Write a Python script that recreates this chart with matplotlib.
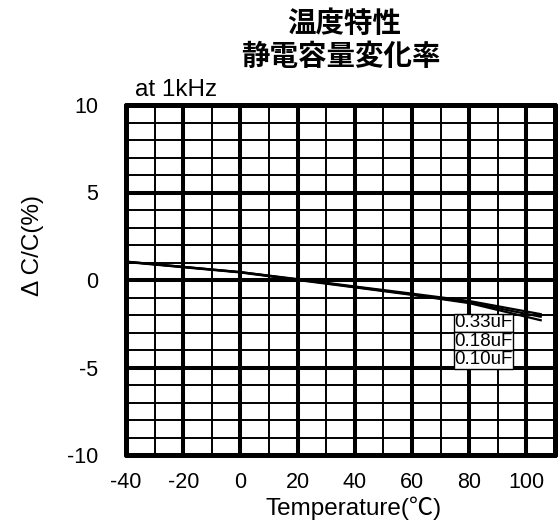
import matplotlib
matplotlib.use("Agg")
import matplotlib.pyplot as plt
from matplotlib.ticker import MultipleLocator

plt.rcParams['font.family'] = ['Liberation Sans', 'Noto Sans CJK JP', 'DejaVu Sans']
plt.rcParams['axes.unicode_minus'] = False

temps = [-40, -20, 0, 20, 40, 60, 80, 105]
cap_033 = [1.05, 0.75, 0.45, 0.05, -0.37, -0.78, -1.20, -1.95]
cap_018 = [1.05, 0.75, 0.45, 0.03, -0.40, -0.82, -1.28, -2.10]
cap_010 = [1.03, 0.73, 0.43, 0.00, -0.42, -0.85, -1.32, -2.30]
series_labels = ["0.33uF", "0.18uF", "0.10uF"]
xticks = [-40, -20, 0, 20, 40, 60, 80, 100]
yticks = [-10, -5, 0, 5, 10]

fig = plt.figure(figsize=(5.58, 5.23), dpi=100)
ax = fig.add_axes([126/558, 68/523, (555-126)/558, (455-105)/523])

for ys in (cap_033, cap_018, cap_010):
    ax.plot(temps, ys, color='black', lw=1.6, zorder=3)

ax.set_xlim(-40, 110)
ax.set_ylim(-10, 10)
ax.set_xticks(xticks)
ax.set_yticks(yticks)
ax.xaxis.set_minor_locator(MultipleLocator(10))
ax.yaxis.set_minor_locator(MultipleLocator(1))
ax.set_axisbelow(True)
ax.grid(which='major', color='black', lw=2.9)
ax.grid(which='minor', color='black', lw=1.4)
ax.tick_params(which='both', length=0)
ax.tick_params(axis='x', labelsize=15.5, pad=12)
ax.tick_params(axis='y', labelsize=15.5, pad=20)
for s in ax.spines.values():
    s.set_linewidth(3.6)
    s.set_capstyle('round')

ax.set_xlabel("Temperature(℃)", fontsize=17.5)
ax.xaxis.set_label_coords(0.53, -0.118)
ax.set_ylabel("Δ C/C(%)", fontsize=17.5)
ax.yaxis.set_label_coords(-0.19, 0.6)

# labels box
label_y = [-2.45, -3.5, -4.55]
for lab, yy in zip(series_labels, label_y):
    ax.text(85, yy, lab, fontsize=13.5, ha='center', va='center', zorder=5,
            bbox=dict(boxstyle='square,pad=0.04', fc='white', ec='black', lw=1))

fig.text(135/558, 1 - 90/523, "at 1kHz", fontsize=17.5, ha='left', va='center')
fig.text(344/558, 1 - 24/523, "温度特性", fontsize=20.5, fontweight='bold',
         ha='center', va='center', family=['Noto Sans CJK JP'])
fig.text(341/558, 1 - 57/523, "静電容量変化率", fontsize=20.5, fontweight='bold',
         ha='center', va='center', family=['Noto Sans CJK JP'])

fig.savefig("out.png", dpi=100)
